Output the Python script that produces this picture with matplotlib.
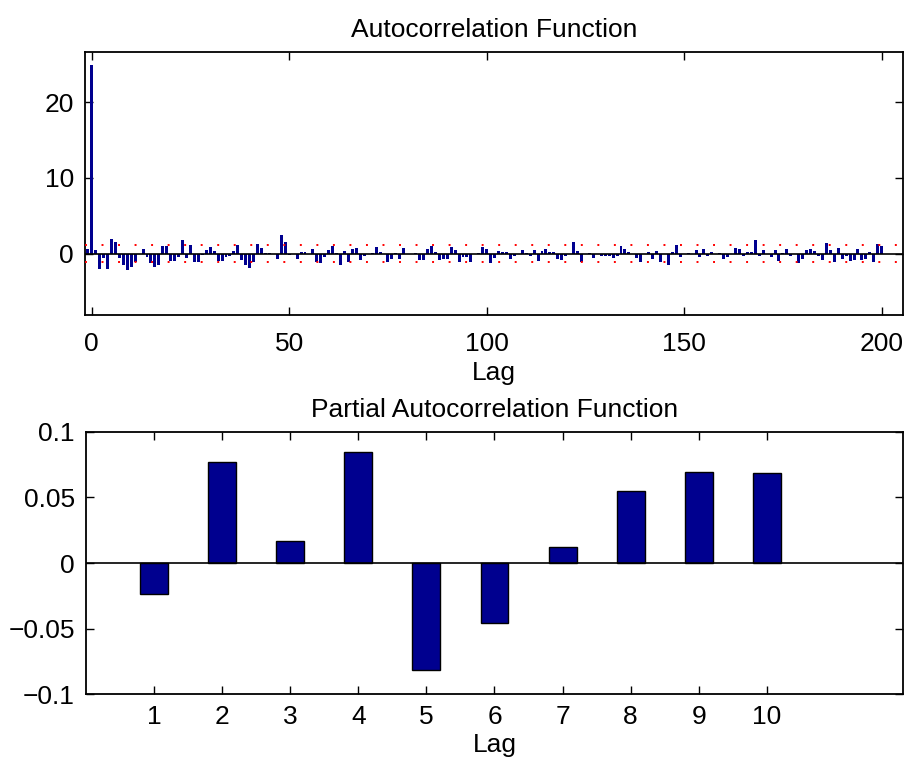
import numpy as np
import matplotlib
matplotlib.use('Agg')
import matplotlib.pyplot as plt

plt.rcParams['font.family'] = ['Liberation Sans', 'DejaVu Sans']
plt.rcParams['font.size'] = 19

# sample autocorrelation, lags -1..200
acf_lags = np.arange(-1, 201)
acf_values = [
    0.55, 24.9, 0.5, -2.05, -0.6, -2.05, 1.95, 1.6, -0.55, -1.55,
    -2.1, -1.75, -1.1, 0.0, 0.65, -0.45, -1.25, -1.7, -1.45, 1.0,
    1.0, -0.95, -0.95, -0.5, 1.85, -0.55, 1.2, -1.15, -1.15, -0.2,
    0.45, 0.9, 0.3, -0.95, -0.95, -0.45, -0.35, 0.3, 1.1, -0.9,
    -1.45, -1.85, -1.1, 1.3, 0.8, 0.05, 0.05, -0.1, -0.65, 2.5,
    1.6, -0.2, -0.1, -0.7, 0.15, 0.25, 0.0, 0.55, -1.15, -1.25,
    -0.45, 0.45, 1.0, 0.05, -1.45, 0.3, -1.15, 0.55, 0.75, -0.8,
    -0.35, 0.0, 0.05, 0.9, 0.25, 0.0, -1.1, -0.65, 0.05, -0.65,
    0.75, -0.1, 0.0, 0.05, -0.8, -0.8, 0.6, 1.0, 0.15, -0.8,
    -0.65, -0.65, 0.85, 0.45, -1.15, -0.45, -0.5, -1.15, 0.0, 0.1,
    0.9, 0.65, -1.25, -0.6, 0.3, 0.2, 0.2, -0.7, -0.3, 0.0,
    0.45, 0.05, -0.3, 0.45, -0.95, 0.3, 0.55, 0.25, 0.15, -0.7,
    -0.9, -0.25, 0.0, 1.5, 0.3, -1.1, 0.0, 0.05, -0.55, 0.0,
    -0.25, -0.25, -0.25, -0.55, -0.35, 1.0, 0.65, 0.15, 0.0, -0.55,
    -1.15, 0.0, 0.25, -0.75, 0.35, -1.15, 0.0, -1.55, 0.25, 1.1,
    -0.5, 0.0, 0.05, 0.0, 0.5, -0.45, 0.6, -0.3, 0.25, 0.0,
    0.05, -0.65, -0.5, 0.0, 0.7, 0.65, -0.25, 0.25, 0.2, 1.75,
    -0.25, 0.5, 0.0, -0.45, 0.5, -0.95, 0.05, 0.6, -0.3, 0.0,
    -1.2, -0.7, 0.5, 0.6, 0.4, -0.3, -0.85, 1.45, 0.45, -1.05,
    0.75, -0.65, -0.3, -0.95, -0.9, 0.55, -0.8, -0.7, 0.25, -1.15,
    1.3, 1.0,
]
acf_bound = 1.12

# partial autocorrelation, lags 1..10
pacf_lags = np.arange(1, 11)
pacf_values = [-0.0237, 0.0773, 0.0165, 0.0844, -0.0815,
               -0.046, 0.0124, 0.055, 0.0697, 0.069]
pacf_ticks = [-0.1, -0.05, 0, 0.05, 0.1]
pacf_ticklabels = ['\u22120.1', '\u22120.05', '0', '0.05', '0.1']

navy = '#00008F'

fig = plt.figure(figsize=(9.09, 7.65), dpi=100)
ax1 = fig.add_axes([0.0935, 0.5882, 0.8999, 0.3438])
ax2 = fig.add_axes([0.0946, 0.0928, 0.8988, 0.3425])

# autocorrelation
ax1.bar(acf_lags, acf_values, width=0.75, color=navy, linewidth=0, zorder=2)
ax1.axhline(0, color='black', lw=1.2, zorder=3)
ax1.axhline(acf_bound, color='red', lw=1.4, ls=(0, (1, 7.5)), zorder=4)
ax1.axhline(-acf_bound, color='red', lw=1.4, ls=(0, (1, 7.5)), zorder=4)
ax1.set_xlim(-1.7, 205.4)
ax1.set_ylim(-8.1, 26.6)
ax1.set_xticks([0, 50, 100, 150, 200])
ax1.set_yticks([0, 10, 20])
ax1.set_title('Autocorrelation Function', fontsize=19, pad=10.5)
ax1.set_xlabel('Lag', labelpad=4)

# partial autocorrelation
ax2.bar(pacf_lags, pacf_values, width=0.41, color=navy, edgecolor='black',
        linewidth=1, zorder=2)
ax2.axhline(0, color='black', lw=1.2, zorder=3)
ax2.set_xlim(0, 12)
ax2.set_ylim(-0.1, 0.1)
ax2.set_xticks(pacf_lags)
ax2.set_yticks(pacf_ticks)
ax2.set_yticklabels(pacf_ticklabels)
ax2.set_title('Partial Autocorrelation Function', fontsize=19, pad=10.5)
ax2.set_xlabel('Lag', labelpad=3)

for ax in (ax1, ax2):
    ax.tick_params(direction='in', length=6, width=1, top=True, right=True,
                   pad=8)
    for s in ax.spines.values():
        s.set_linewidth(1.3)
ax1.tick_params(axis='x', pad=12)

fig.savefig('out.png', dpi=100)
